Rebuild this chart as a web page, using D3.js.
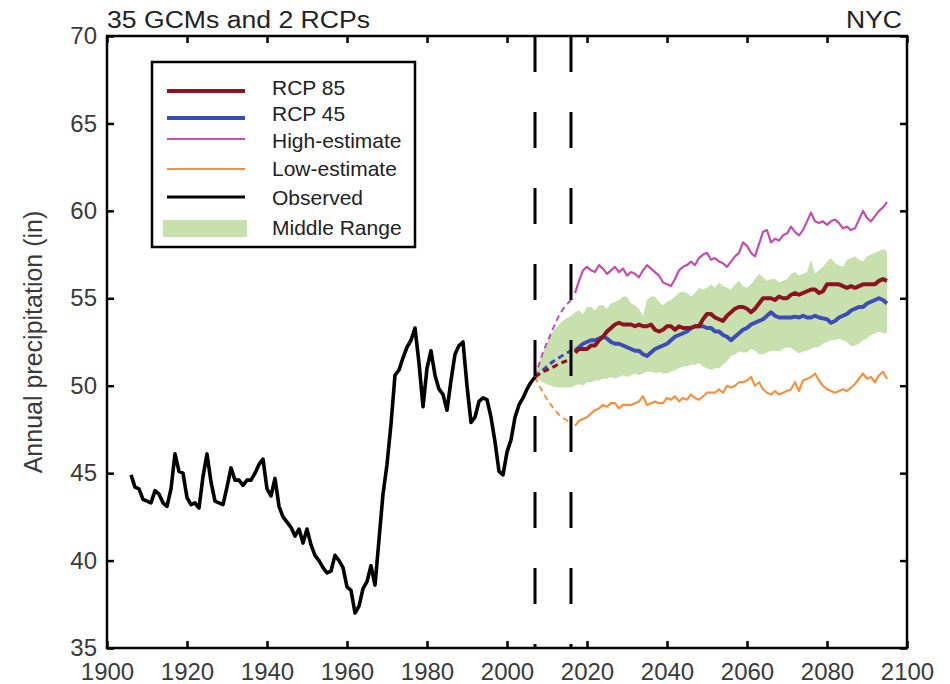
<!DOCTYPE html>
<html>
<head>
<meta charset="utf-8">
<script src="https://cdn.jsdelivr.net/npm/d3@7/dist/d3.min.js"></script>
<style>
  body { margin: 0; background: #fff; }
  svg { font-family: "Liberation Sans", Arial, sans-serif; }
</style>
</head>
<body>
<svg id="chart" width="950" height="684"></svg>
<script>
// Observed annual precipitation (in), smoothed, 1906-2007
const obsStart = 1906
const observed = [
  44.9, 44.2, 44.1, 43.5, 43.4, 43.3, 44.0, 43.8, 43.3, 43.1,
  44.1, 46.1, 45.1, 45.0, 43.6, 43.2, 43.3, 43.0, 44.8, 46.1,
  44.5, 43.4, 43.3, 43.2, 44.2, 45.3, 44.6, 44.6, 44.3, 44.6,
  44.6, 45.0, 45.5, 45.8, 44.1, 43.7, 44.7, 43.1, 42.5, 42.2,
  41.9, 41.4, 41.8, 41.0, 41.8, 40.9, 40.3, 40.0, 39.6, 39.3,
  39.4, 40.3, 40.0, 39.6, 38.5, 38.3, 37.0, 37.4, 38.4, 38.8,
  39.7, 38.6, 41.2, 43.8, 45.5, 47.8, 50.6, 50.9, 51.6, 52.2,
  52.6, 53.3, 51.3, 48.8, 51.0, 52.0, 50.6, 49.8, 49.5, 48.6,
  50.3, 51.8, 52.3, 52.5, 50.0, 47.9, 48.2, 49.1, 49.3, 49.2,
  48.2, 46.8, 45.1, 44.9, 46.2, 46.9, 48.2, 48.9, 49.3, 49.8,
  50.2, 50.5
]

// Projections, 2017-2095
const projStart = 2017
const rcp85 = [
  51.9, 52.1, 52.1, 52.1, 52.3, 52.3, 52.6, 52.8, 53.1, 53.3,
  53.5, 53.6, 53.5, 53.5, 53.5, 53.4, 53.5, 53.4, 53.4, 53.5,
  53.2, 53.1, 53.2, 53.4, 53.4, 53.2, 53.4, 53.3, 53.3, 53.3,
  53.4, 53.4, 53.8, 54.1, 54.1, 53.9, 53.8, 53.7, 54.0, 54.2,
  54.4, 54.5, 54.5, 54.4, 54.2, 54.4, 54.7, 55.0, 55.0, 55.0,
  54.9, 55.1, 55.0, 55.0, 55.2, 55.3, 55.2, 55.3, 55.4, 55.5,
  55.5, 55.3, 55.4, 55.8, 55.8, 55.8, 55.8, 55.7, 55.6, 55.7,
  55.6, 55.7, 55.8, 55.8, 55.8, 55.8, 56.0, 56.1, 56.0
]
const rcp45 = [
  52.0, 52.2, 52.4, 52.5, 52.6, 52.6, 52.7, 52.8, 52.7, 52.5,
  52.4, 52.4, 52.3, 52.2, 52.1, 52.0, 52.0, 51.8, 51.7, 51.9,
  52.1, 52.2, 52.3, 52.4, 52.6, 52.8, 52.9, 53.0, 53.1, 53.3,
  53.4, 53.4, 53.4, 53.3, 53.3, 53.1, 53.1, 52.9, 52.8, 52.6,
  52.8, 53.0, 53.2, 53.3, 53.5, 53.6, 53.7, 53.8, 54.0, 54.2,
  54.0, 53.9, 53.9, 53.9, 53.9, 53.95, 53.9, 54.0, 53.9, 53.9,
  54.0, 53.9, 53.85, 53.8, 53.6, 53.7, 53.9, 54.0, 54.1, 54.3,
  54.4, 54.5, 54.5, 54.7, 54.8, 54.9, 55.0, 54.9, 54.7
]
const highEst = [
  55.3, 56.0, 56.6, 56.8, 56.6, 56.5, 56.9, 56.7, 56.4, 56.6,
  56.8, 56.5, 56.7, 56.3, 56.5, 56.4, 56.2, 56.6, 56.9, 56.7,
  56.5, 56.3, 55.9, 55.8, 55.7, 56.1, 56.6, 56.8, 56.9, 57.1,
  56.9, 57.3, 57.5, 57.6, 57.2, 57.3, 57.1, 57.0, 56.8, 57.1,
  57.4, 57.6, 58.2, 58.0, 57.6, 57.4, 58.1, 58.8, 58.9, 58.2,
  58.4, 58.3, 58.6, 58.7, 59.1, 58.8, 58.6, 58.9, 59.4, 59.9,
  59.4, 59.3, 59.4, 59.2, 59.4, 59.5, 59.3, 59.0, 59.1, 58.9,
  59.0, 59.5, 60.0, 59.6, 59.4, 59.7, 60.0, 60.2, 60.5
]
const lowEst = [
  47.7, 48.0, 48.1, 48.2, 48.4, 48.6, 48.7, 48.9, 48.8, 49.0,
  49.0, 48.7, 48.9, 48.9, 48.9, 49.0, 49.1, 49.4, 48.9, 49.0,
  49.1, 49.0, 49.0, 49.3, 49.2, 49.4, 49.1, 49.3, 49.2, 49.5,
  49.3, 49.2, 49.4, 49.6, 49.6, 49.6, 49.8, 49.6, 50.0, 49.9,
  50.0, 50.2, 50.2, 50.3, 50.5, 50.0, 50.2, 49.8, 49.6, 49.5,
  49.7, 49.5, 49.6, 49.7, 49.8, 50.2, 49.7, 50.3, 50.4, 50.5,
  50.7, 50.3, 50.0, 49.8, 49.7, 49.6, 49.7, 49.8, 49.7, 49.9,
  50.1, 50.4, 50.7, 50.4, 50.5, 50.2, 50.6, 50.8, 50.4
]

// Middle range band, 2016-2095
const bandStart = 2016
const bandUpper = [
  54.0, 54.2, 54.3, 54.1, 54.5, 54.5, 54.3, 54.6, 54.6, 54.4,
  54.7, 54.8, 54.9, 55.1, 55.1, 54.7, 54.6, 54.4, 54.0, 54.9,
  55.1, 55.1, 54.8, 54.6, 54.8, 54.9, 55.1, 55.3, 55.4, 55.3,
  55.1, 55.3, 55.6, 55.5, 55.6, 55.8, 55.6, 55.9, 55.7, 55.6,
  55.5, 55.8, 56.0, 55.7, 55.6, 55.8, 56.1, 56.4, 56.2, 56.0,
  56.1, 56.1, 55.9, 56.0, 56.1, 56.4, 56.5, 56.3, 56.4, 56.5,
  57.2, 56.4, 56.6, 56.8, 57.1, 57.3, 57.0, 56.9, 56.8, 57.2,
  57.3, 57.4, 57.2, 57.1, 57.4, 57.5, 57.6, 57.7, 57.8, 57.7
]
const bandLower = [
  49.9, 50.0, 50.1, 50.0, 50.2, 50.2, 50.3, 50.3, 50.4, 50.4,
  50.5, 50.4, 50.5, 50.6, 50.5, 50.6, 50.7, 50.6, 50.7, 50.8,
  50.8, 50.7, 50.8, 50.7, 50.7, 50.8, 50.9, 51.0, 51.1, 51.1,
  51.2, 51.2, 51.3, 51.1, 51.0, 50.9, 51.0, 51.0, 51.2, 51.4,
  51.7, 51.8, 51.95, 51.9, 51.9, 52.1, 52.0, 51.8, 51.8, 51.9,
  52.0, 52.0, 51.95, 52.1, 52.2, 52.15, 52.0, 51.85, 51.95, 52.0,
  52.1, 52.2, 52.2, 52.4, 52.5, 52.6, 52.6, 52.7, 52.6, 52.5,
  52.25, 52.3, 52.4, 52.6, 52.7, 52.9, 53.0, 53.1, 53.0, 53.0
]

// Transition 2007-2016 (dashed in the figure)
const bridgeYears = [2007, 2009, 2011, 2013, 2016]
const bridgeHigh = [50.5, 51.9, 53.0, 54.0, 54.9]
const bridgeLow = [50.5, 49.6, 48.9, 48.35, 47.9]
const bridge85 = [50.5, 50.8, 51.0, 51.25, 51.5]
const bridge45 = [50.5, 50.9, 51.3, 51.6, 52.0]
const bridgeUpper = [50.5, 51.9, 52.9, 53.5, 54.0]
const bridgeLower = [50.5, 50.2, 50.0, 49.9, 49.9]

const markerYears = [2007, 2016]
const xTicks = [1900, 1920, 1940, 1960, 1980, 2000, 2020, 2040, 2060, 2080, 2100]
const yTicks = [35, 40, 45, 50, 55, 60, 65, 70]
const legendLabels = ['RCP 85', 'RCP 45', 'High-estimate', 'Low-estimate', 'Observed', 'Middle Range']

// colours
const cRcp85 = '#8c1421'
const cRcp45 = '#3c4db8'
const cHigh = '#c24fae'
const cLow = '#f7913d'
const cObs = '#000'
const cBand = '#c7e0ae'
const textCol = '#3a3a3a'

const svg = d3.select('#chart')
const pLeft = 107, pRight = 907, pTop = 36, pBottom = 648

const x = d3.scaleLinear().domain([1900, 2100]).range([pLeft, pRight])
const y = d3.scaleLinear().domain([35, 70]).range([pBottom, pTop])

const toPts = (start, vals) => vals.map((v, i) => [start + i, v])
const zip = (yrs, vals) => yrs.map((t, i) => [t, vals[i]])

const line = d3.line().x(d => x(d[0])).y(d => y(d[1]))
const smooth = d3.line().x(d => x(d[0])).y(d => y(d[1])).curve(d3.curveMonotoneX)

// middle range band
const bandPts = bandUpper.map((u, i) => [bandStart + i, u, bandLower[i]])
svg.append('path')
    .datum(bandPts)
    .attr('fill', cBand)
    .attr('d', d3.area().x(d => x(d[0])).y0(d => y(d[2])).y1(d => y(d[1])))
svg.append('path')
    .datum(bridgeYears.map((t, i) => [t, bridgeUpper[i], bridgeLower[i]]))
    .attr('fill', cBand)
    .attr('d', d3.area().x(d => x(d[0])).y0(d => y(d[2])).y1(d => y(d[1])).curve(d3.curveMonotoneX))

// dashed transition lines
const bridges = [
  [bridgeHigh, cHigh, 2],
  [bridgeLow, cLow, 2],
  [bridge45, cRcp45, 3],
  [bridge85, cRcp85, 3]
]
bridges.forEach(([vals, col, w]) => {
  svg.append('path')
      .datum(zip(bridgeYears, vals))
      .attr('fill', 'none')
      .attr('stroke', col)
      .attr('stroke-width', w)
      .attr('stroke-dasharray', '6,4')
      .attr('d', smooth)
})

// projection lines
const series = [
  [highEst, cHigh, 2.2],
  [lowEst, cLow, 2.2],
  [rcp45, cRcp45, 4],
  [rcp85, cRcp85, 4]
]
series.forEach(([vals, col, w]) => {
  svg.append('path')
      .datum(toPts(projStart, vals))
      .attr('fill', 'none')
      .attr('stroke', col)
      .attr('stroke-width', w)
      .attr('stroke-linejoin', 'round')
      .attr('d', line)
})

// observed
svg.append('path')
    .datum(toPts(obsStart, observed))
    .attr('fill', 'none')
    .attr('stroke', cObs)
    .attr('stroke-width', 3.6)
    .attr('stroke-linejoin', 'round')
    .attr('d', line)

// vertical dashed markers
svg.selectAll('line.marker')
  .data(markerYears)
  .join('line')
    .attr('class', 'marker')
    .attr('x1', d => x(d)).attr('x2', d => x(d))
    .attr('y1', pTop).attr('y2', pBottom)
    .attr('stroke', '#000')
    .attr('stroke-width', 3)
    .attr('stroke-dasharray', '36,40')

// axes, ticks pointing inwards
const tickLen = 7
const styleAxis = g => {
  g.select('path.domain').remove()
  g.selectAll('line').attr('stroke', '#000').attr('stroke-width', 2.5)
  g.selectAll('text').attr('fill', textCol).style('font-size', '24px')
}
svg.append('g')
    .attr('transform', `translate(0,${pBottom})`)
    .call(d3.axisBottom(x).tickValues(xTicks).tickSize(-tickLen).tickPadding(15).tickFormat(d3.format('d')))
    .call(styleAxis)
svg.append('g')
    .attr('transform', `translate(0,${pTop})`)
    .call(d3.axisTop(x).tickValues(xTicks).tickSize(-tickLen).tickFormat(''))
    .call(styleAxis)
svg.append('g')
    .attr('transform', `translate(${pLeft},0)`)
    .call(d3.axisLeft(y).tickValues(yTicks).tickSize(-tickLen).tickPadding(10))
    .call(styleAxis)
svg.append('g')
    .attr('transform', `translate(${pRight},0)`)
    .call(d3.axisRight(y).tickValues(yTicks).tickSize(-tickLen).tickFormat(''))
    .call(styleAxis)

// frame
svg.append('rect')
    .attr('x', pLeft).attr('y', pTop)
    .attr('width', pRight - pLeft).attr('height', pBottom - pTop)
    .attr('fill', 'none')
    .attr('stroke', '#000')
    .attr('stroke-width', 2.5)

// titles
svg.append('text')
    .attr('x', pLeft).attr('y', 28)
    .attr('textLength', 263).attr('lengthAdjust', 'spacingAndGlyphs')
    .style('font-size', '23px').attr('fill', '#222')
    .text('35 GCMs and 2 RCPs')
svg.append('text')
    .attr('x', 902).attr('y', 28)
    .attr('text-anchor', 'end')
    .attr('textLength', 56).attr('lengthAdjust', 'spacingAndGlyphs')
    .style('font-size', '23px').attr('fill', '#222')
    .text('NYC')
svg.append('text')
    .attr('transform', `translate(42,${(pTop + pBottom) / 2}) rotate(-90)`)
    .attr('text-anchor', 'middle')
    .style('font-size', '25px').attr('fill', textCol)
    .text('Annual precipitation (in)')

// legend
const legend = svg.append('g').attr('class', 'legend')
legend.append('rect')
    .attr('x', 152).attr('y', 62)
    .attr('width', 263).attr('height', 185)
    .attr('fill', '#fff')
    .attr('stroke', '#000')
    .attr('stroke-width', 2.5)

const legendStyle = {
  'RCP 85': { col: cRcp85, w: 4 },
  'RCP 45': { col: cRcp45, w: 4 },
  'High-estimate': { col: cHigh, w: 2.2 },
  'Low-estimate': { col: cLow, w: 2.2 },
  'Observed': { col: cObs, w: 3.2 },
  'Middle Range': { col: cBand, w: 17 }
}
const rowY = [91, 118, 139, 169, 197, 228]
const textY = [95, 121, 148, 176, 205, 235]
legendLabels.forEach((lab, i) => {
  const s = legendStyle[lab]
  if (lab === 'Middle Range') {
    legend.append('rect')
        .attr('x', 163).attr('y', rowY[i] - 8)
        .attr('width', 84).attr('height', 17)
        .attr('fill', s.col)
  } else {
    legend.append('line')
        .attr('x1', 167).attr('x2', 245)
        .attr('y1', rowY[i]).attr('y2', rowY[i])
        .attr('stroke', s.col)
        .attr('stroke-width', s.w)
  }
  legend.append('text')
      .attr('x', 272).attr('y', textY[i])
      .style('font-size', '21px')
      .attr('fill', '#222')
      .text(lab)
})
</script>
</body>
</html>
